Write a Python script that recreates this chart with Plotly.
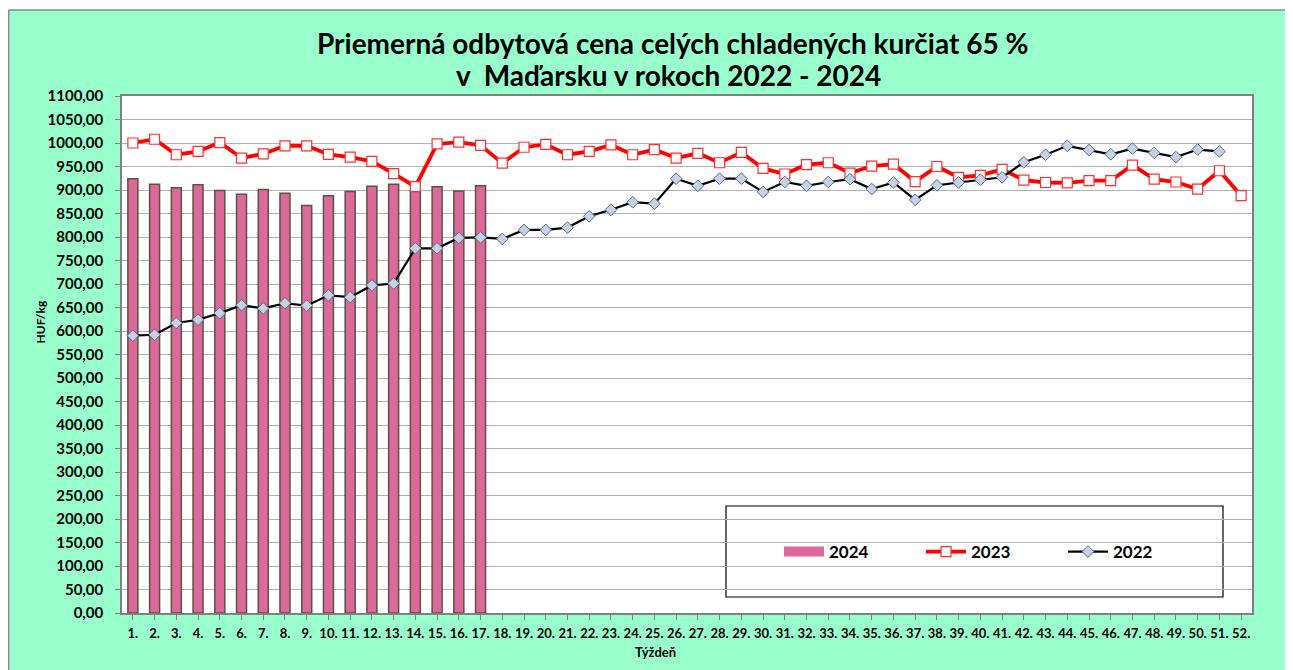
import plotly.graph_objects as go

weeks = [f"{i}." for i in range(1, 53)]
y2024 = [924, 912, 905, 911, 899, 891, 901, 893, 867, 888, 897, 908, 912, 899, 907, 898, 909]
y2023 = [1000, 1008, 975, 982, 1001, 968, 977, 994, 994, 976, 970, 961, 935, 907, 998, 1002, 995,
         957, 991, 997, 975, 982, 996, 975, 986, 968, 978, 958, 980, 946, 934, 954, 958, 936, 951,
         955, 918, 950, 927, 931, 944, 921, 916, 915, 920, 920, 953, 923, 917, 902, 941, 888]
y2022 = [590, 592, 617, 624, 638, 655, 648, 659, 654, 676, 672, 697, 701, 776, 776, 798, 799,
         796, 815, 815, 820, 844, 858, 874, 871, 924, 909, 924, 924, 896, 917, 909, 917, 923, 902,
         916, 879, 910, 916, 922, 927, 959, 975, 994, 985, 976, 988, 979, 970, 986, 982]
ytick_vals = list(range(0, 1101, 50))
ytick_text = [f"{v},00" for v in ytick_vals]
title_lines = ["Priemerná odbytová cena celých chladených kurčiat 65 %",
               "v  Maďarsku v rokoch 2022 - 2024"]

W, H = 1293, 670
OFF = 8  # page body margin
L, R, T, B = 114, 1244, 88, 605  # plot area in figure pixels
PW, PH = R - L, B - T


def sx(x):
    return (x - OFF - L) / PW


def sy(y):
    return (B - (y - OFF)) / PH


PINK = "#DB6A9A"
fig = go.Figure()
fig.add_trace(go.Scatter(x=[None], y=[None], mode="lines", name="2024",
                         line=dict(color=PINK, width=10)))
fig.add_trace(go.Bar(x=weeks[:len(y2024)], y=y2024, name="2024", showlegend=False,
                     marker=dict(color=PINK, line=dict(color="#5E5040", width=1.5))))
fig.add_trace(go.Scatter(x=weeks, y=y2023, name="2023", mode="lines+markers",
                         line=dict(color="#FF0000", width=3.8),
                         marker=dict(symbol="square", size=10, color="white",
                                     line=dict(color="#FF3030", width=1.2))))
fig.add_trace(go.Scatter(x=weeks[:len(y2022)], y=y2022, name="2022", mode="lines+markers",
                         line=dict(color="#000000", width=2.2),
                         marker=dict(symbol="diamond", size=9, color="#C9D1DE",
                                     line=dict(color="#4A6A9A", width=1))))

font_fam = "Lato, Liberation Sans, sans-serif"
fig.update_layout(
    width=W, height=H,
    paper_bgcolor="#99FFCC", plot_bgcolor="white",
    margin=dict(l=L, r=W - R, t=T, b=H - B, autoexpand=False),
    font=dict(family=font_fam, color="black"),
    bargap=0.54,
    showlegend=True,
    legend=dict(orientation="h", x=sx(779), xanchor="left", y=sy(552), yanchor="middle",
                bgcolor="rgba(0,0,0,0)", font=dict(size=17, family=font_fam, weight="bold"),
                entrywidth=87, entrywidthmode="pixels", traceorder="normal",
                itemwidth=40),
    shapes=[
        dict(type="rect", xref="paper", yref="paper", x0=sx(726), x1=sx(1223), y0=sy(597), y1=sy(506),
             line=dict(color="black", width=1.2), fillcolor="white", layer="below"),
        dict(type="rect", xref="paper", yref="paper", x0=sx(OFF), x1=sx(W + OFF), y0=sy(10), y1=sy(OFF),
             line=dict(width=0), fillcolor="white"),
        dict(type="line", xref="paper", yref="paper", x0=sx(8.5), x1=sx(W + OFF), y0=sy(10), y1=sy(10),
             line=dict(color="#8A8A8A", width=1.5)),
        dict(type="line", xref="paper", yref="paper", x0=sx(8.7), x1=sx(8.7), y0=sy(10), y1=sy(H + OFF),
             line=dict(color="#8A8A8A", width=1.5)),
    ],
    annotations=[
        dict(text=f"<b>{title_lines[0]}</b>", xref="paper", yref="paper", x=sx(672), y=sy(43),
             xanchor="center", yanchor="middle", showarrow=False, font=dict(size=28)),
        dict(text=f"<b>{title_lines[1]}</b>", xref="paper", yref="paper", x=sx(668), y=sy(75),
             xanchor="center", yanchor="middle", showarrow=False, font=dict(size=28)),
        dict(text="<b>Týždeň</b>", xref="paper", yref="paper", x=sx(655), y=sy(652),
             yanchor="middle", showarrow=False, font=dict(size=13)),
        dict(text="<b>HUF/kg</b>", xref="paper", yref="paper", x=sx(30), y=sy(322),
             textangle=-90, showarrow=False, font=dict(size=12)),
    ],
)
fig.update_xaxes(type="category", range=[-0.5, 51.5], showline=True, linecolor="#808080",
                 linewidth=1.5, mirror=True, ticks="outside", ticklen=5, tickcolor="#808080",
                 tickfont=dict(size=13, weight="bold"), tickangle=0, showgrid=False,
                 ticklabelstandoff=3)
fig.update_yaxes(range=[0, 1100], tickvals=ytick_vals, ticktext=ytick_text, showline=True,
                 linecolor="#808080", linewidth=1.5, mirror=True, ticks="outside", ticklen=5,
                 tickcolor="#808080", gridcolor="#B0B0B0", gridwidth=1.2,
                 tickfont=dict(size=15, weight="bold"), ticklabelstandoff=9)
fig.write_html("out.html")
